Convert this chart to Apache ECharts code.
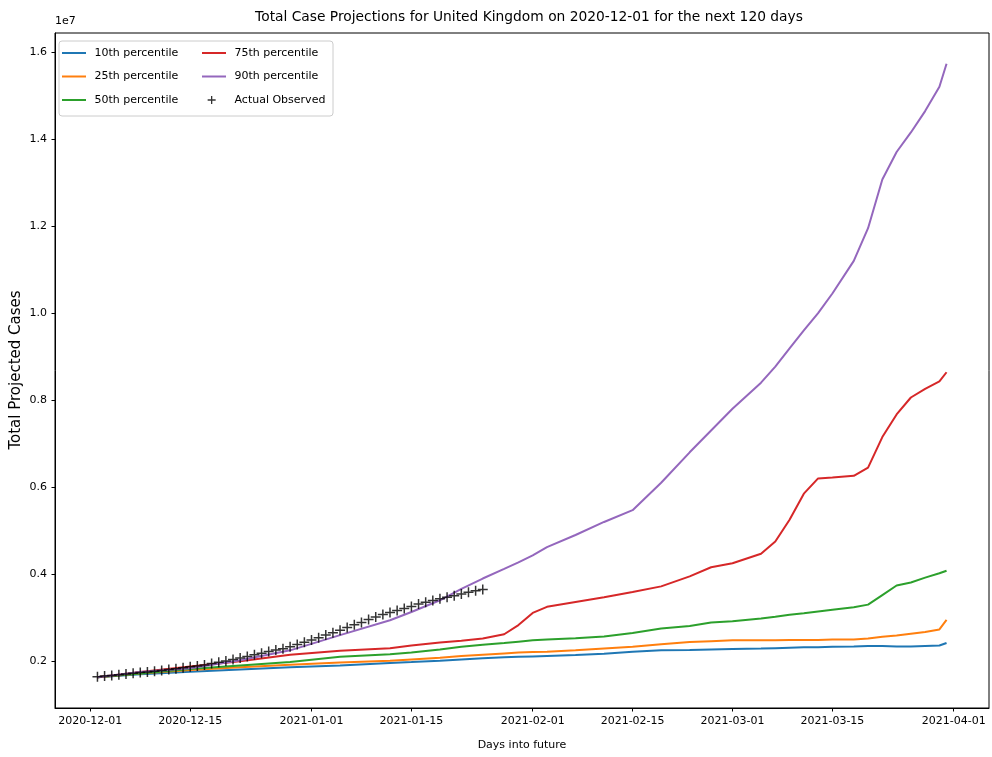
<!DOCTYPE html>
<html>
<head>
<meta charset="utf-8">
<title>Total Case Projections for United Kingdom</title>
<script src="https://cdn.jsdelivr.net/npm/echarts@6/dist/echarts.min.js"></script>
<style>
  html, body { margin: 0; padding: 0; background: #ffffff; }
  #chart { width: 992px; height: 757px; }
</style>
</head>
<body>
<div id="chart"></div>
<script>
// Projection dates (every few days, denser where the curves bend)
const projDates = [
  '2020-12-02','2020-12-08','2020-12-15','2020-12-22','2020-12-29','2021-01-05',
  '2021-01-12','2021-01-15','2021-01-19','2021-01-22','2021-01-25','2021-01-28',
  '2021-01-30','2021-02-01','2021-02-03','2021-02-07','2021-02-11','2021-02-15',
  '2021-02-19','2021-02-23','2021-02-26','2021-03-01','2021-03-05','2021-03-07',
  '2021-03-09','2021-03-11','2021-03-13','2021-03-15','2021-03-18','2021-03-20',
  '2021-03-22','2021-03-24','2021-03-26','2021-03-28','2021-03-30','2021-03-31'
];

// Projected total cases per percentile
const p10 = [
  1630000,1700000,1760000,1810000,1860000,1900000,1960000,1980000,2010000,2040000,
  2070000,2090000,2100000,2110000,2120000,2140000,2170000,2220000,2250000,2260000,
  2270000,2280000,2290000,2300000,2310000,2320000,2320000,2330000,2340000,2350000,
  2350000,2340000,2340000,2350000,2360000,2420000
];
const p25 = [
  1630000,1720000,1800000,1860000,1920000,1970000,2010000,2040000,2080000,2120000,
  2150000,2180000,2200000,2210000,2220000,2250000,2290000,2330000,2390000,2440000,
  2460000,2480000,2480000,2480000,2490000,2490000,2490000,2500000,2500000,2520000,
  2560000,2590000,2630000,2670000,2730000,2950000
];
const p50 = [
  1630000,1720000,1820000,1900000,1980000,2100000,2160000,2200000,2270000,2330000,
  2380000,2420000,2450000,2480000,2500000,2530000,2570000,2650000,2750000,2810000,
  2890000,2920000,2980000,3020000,3070000,3100000,3140000,3180000,3240000,3300000,
  3520000,3740000,3810000,3920000,4020000,4080000
];
const p75 = [
  1630000,1750000,1880000,2000000,2150000,2240000,2300000,2360000,2430000,2470000,
  2520000,2620000,2830000,3110000,3250000,3360000,3470000,3590000,3720000,3950000,
  4160000,4250000,4470000,4750000,5250000,5850000,6200000,6220000,6260000,6450000,
  7150000,7670000,8060000,8260000,8430000,8640000
];
const p90 = [
  1630000,1750000,1840000,2020000,2250000,2600000,2940000,3130000,3400000,3660000,
  3900000,4120000,4270000,4430000,4620000,4900000,5200000,5470000,6100000,6800000,
  7300000,7800000,8400000,8770000,9190000,9600000,10000000,10450000,11200000,11950000,
  13070000,13700000,14150000,14640000,15200000,15730000
];

// Reported cumulative cases, one value per day from 2020-12-02 to 2021-01-25
const obsStart = '2020-12-02';
const observed = [
  1643000,1659000,1674000,1690000,1706000,1723000,1738000,1750000,1767000,1788000,
  1809000,1827000,1849000,1870000,1888000,1913000,1949000,1977000,2004000,2040000,
  2074000,2110000,2150000,2185000,2221000,2256000,2288000,2330000,2383000,2433000,
  2489000,2542000,2600000,2655000,2714000,2774000,2837000,2889000,2957000,3017000,
  3072000,3119000,3164000,3212000,3260000,3316000,3357000,3396000,3433000,3467000,
  3506000,3544000,3584000,3617000,3647000
];

// Axis tick labels
const xTicks = ['2020-12-01','2020-12-15','2021-01-01','2021-01-15','2021-02-01',
                '2021-02-15','2021-03-01','2021-03-15','2021-04-01'];
const yTicks = [2e6, 4e6, 6e6, 8e6, 10e6, 12e6, 14e6, 16e6];

const seriesNames = ['10th percentile','25th percentile','50th percentile',
                     '75th percentile','90th percentile'];
const seriesValues = [p10, p25, p50, p75, p90];
const colors = ['#1f77b4','#ff7f0e','#2ca02c','#d62728','#9467bd'];

const DAY = 86400000;
const ts = s => Date.parse(s);
const projTs = projDates.map(ts);
const obsTs = observed.map((_, i) => ts(obsStart) + i * DAY);

// 5% padding around the data range on both axes
const xFirst = projTs[0], xLast = projTs[projTs.length - 1];
const xPad = (xLast - xFirst) * 0.05;
const allVals = [].concat(...seriesValues, observed);
const yLo = Math.min(...allVals), yHi = Math.max(...allVals);
const yPad = (yHi - yLo) * 0.05;

const FONT = 'DejaVu Sans';
// '+' marker and its legend variant (the latter padded so it draws smaller in the key)
const plusShape = 'path://M4.25,0h1.5v10h-1.5zM0,4.25h10v1.5h-10z';
const plusLegend = 'path://M0,0M24,14M9,3h1.3v8h-1.3zM5.65,6.35h8v1.3h-8z';
// short line handle for the legend key
const lineHandle = 'path://M0,0M24,14M0,6h24v2h-24z';

const series = seriesNames.map((name, k) => ({
  name,
  type: 'line',
  data: projTs.map((t, i) => [t, seriesValues[k][i]]),
  symbol: 'none',
  lineStyle: { width: 2, color: colors[k] },
  itemStyle: { color: colors[k] },
  z: 2
}));
series.push({
  name: 'Actual Observed',
  type: 'scatter',
  data: obsTs.map((t, i) => [t, observed[i]]),
  symbol: plusShape,
  symbolSize: 10,
  itemStyle: { color: '#000000' },
  z: 3
});

const legendCommon = {
  orient: 'vertical',
  top: 46,
  padding: 0,
  itemWidth: 24,
  itemHeight: 14,
  itemGap: 9.5,
  symbolKeepAspect: true,
  textStyle: { fontFamily: FONT, fontSize: 11, color: '#000' },
  formatter: n => ' ' + n,
  selectedMode: false,
  z: 5
};
const legendItem = name => ({ name, icon: lineHandle });

const chart = echarts.init(document.getElementById('chart'), null, { renderer: 'canvas' });
chart.setOption({
  animation: false,
  backgroundColor: '#ffffff',
  color: colors,
  grid: {
    left: 55, right: 3, top: 33, bottom: 49,
    show: true, borderColor: '#000', borderWidth: 1, backgroundColor: 'transparent'
  },
  xAxis: {
    type: 'value',
    min: xFirst - xPad,
    max: xLast + xPad,
    splitLine: { show: false },
    axisLine: { lineStyle: { color: '#000', width: 1 } },
    axisTick: { show: true, length: 3.5, lineStyle: { color: '#000' }, customValues: xTicks.map(ts) },
    axisLabel: {
      customValues: xTicks.map(ts),
      formatter: v => new Date(v).toISOString().slice(0, 10),
      fontFamily: FONT, fontSize: 11, color: '#000', margin: 8
    }
  },
  yAxis: {
    type: 'value',
    min: yLo - yPad,
    max: yHi + yPad,
    splitLine: { show: false },
    axisLine: { show: true, lineStyle: { color: '#000', width: 1 } },
    axisTick: { show: true, length: 3.5, lineStyle: { color: '#000' }, customValues: yTicks },
    axisLabel: {
      customValues: yTicks,
      formatter: v => (v / 1e7).toFixed(1),
      fontFamily: FONT, fontSize: 11, color: '#000', margin: 8
    }
  },
  legend: [
    Object.assign({ left: 62, data: seriesNames.slice(0, 3).map(legendItem) }, legendCommon),
    Object.assign({ left: 202, data: [legendItem(seriesNames[3]), legendItem(seriesNames[4]),
      { name: 'Actual Observed', icon: plusLegend, itemStyle: { color: '#000' } }] }, legendCommon)
  ],
  graphic: [
    {
      type: 'rect', z: 4,
      shape: { x: 59, y: 41, width: 274, height: 75, r: 3 },
      style: { fill: 'rgba(255,255,255,0.8)', stroke: '#cccccc', lineWidth: 1 }
    },
    {
      type: 'text', x: 529, y: 17, z: 6,
      style: { text: 'Total Case Projections for United Kingdom on 2020-12-01 for the next 120 days',
               font: '13.8px "DejaVu Sans"', fill: '#000', textAlign: 'center', textVerticalAlign: 'middle' }
    },
    {
      type: 'text', x: 55, y: 21, z: 6,
      style: { text: '1e7', font: '11px "DejaVu Sans"', fill: '#000', textAlign: 'left', textVerticalAlign: 'middle' }
    },
    {
      type: 'text', x: 522, y: 745, z: 6,
      style: { text: 'Days into future', font: '11px "DejaVu Sans"', fill: '#000', textAlign: 'center', textVerticalAlign: 'middle' }
    },
    {
      type: 'text', x: 16, y: 370, rotation: Math.PI / 2, z: 6,
      style: { text: 'Total Projected Cases', font: '15px "DejaVu Sans"', fill: '#000', textAlign: 'center', textVerticalAlign: 'middle' }
    }
  ],
  series
});
</script>
</body>
</html>
